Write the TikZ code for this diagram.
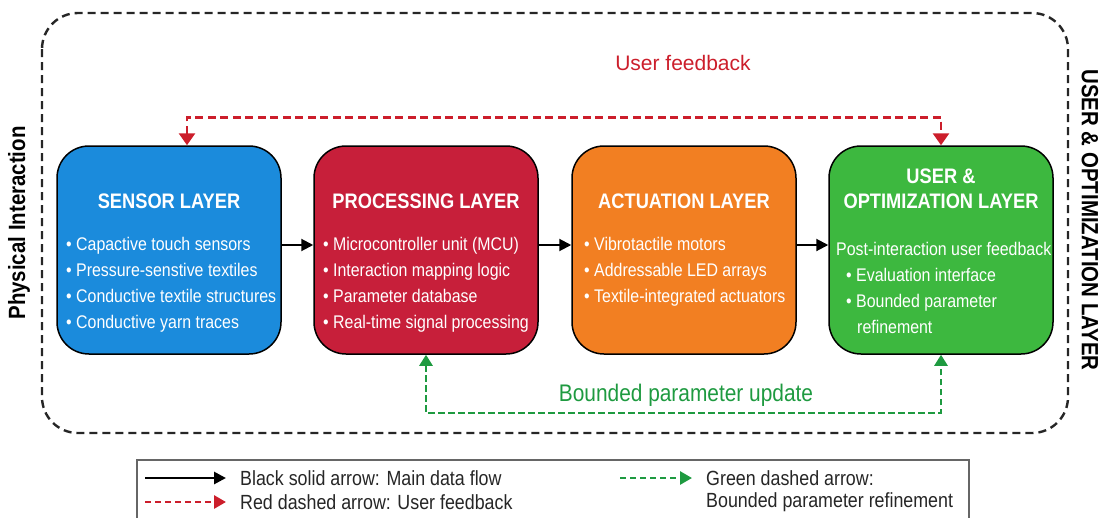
\documentclass[tikz,border=0pt]{standalone}
\usepackage{fontspec}
\setmainfont{Liberation Sans}
\newfontfamily\cond{Liberation Sans}[FakeStretch=0.87]
\usetikzlibrary{arrows.meta,calc}
\definecolor{cblue}{HTML}{1B8BDC}
\definecolor{cred}{HTML}{C71F3A}
\definecolor{corange}{HTML}{F27F22}
\definecolor{cgreen}{HTML}{3DB83F}
\definecolor{fbred}{HTML}{CC1E2B}
\definecolor{fbgreen}{HTML}{1E9A40}
\tikzset{
  layerbox/.style={draw=black, line width=1.5pt, rounded corners=32pt, minimum width=224pt, minimum height=208pt, inner sep=0pt},
  boxtitle/.style={text=white, font=\cond\fontsize{21}{25}\selectfont\bfseries, align=center},
  bullets/.style={text=white, font=\cond\fontsize{18.3}{26}\selectfont, align=left, anchor=north west, inner sep=0pt},
  flow/.style={line width=2pt, -{Triangle[length=12pt,width=12pt]}},
  fbred/.style={draw=fbred, line width=2.8pt, dash pattern=on 8pt off 4.5pt, {Triangle[length=12pt,width=16pt]}-{Triangle[length=12pt,width=16pt]}},
  fbgreen/.style={draw=fbgreen, line width=2.5pt, dash pattern=on 6.5pt off 3.5pt, {Triangle[length=11pt,width=13pt]}-{Triangle[length=11pt,width=13pt]}},
  sidelabel/.style={font=\cond\fontsize{23.5}{26}\selectfont\bfseries},
  legtext/.style={font=\cond\fontsize{20.5}{22}\selectfont, anchor=west, inner sep=0pt, text=black!85}
}
\begin{document}
\begin{tikzpicture}[x=1pt,y=-1pt]
\useasboundingbox (0,0) rectangle (1103,517);
% outer dashed frame
\draw[line width=2.4pt, dash pattern=on 8pt off 5pt, rounded corners=36pt, black!85] (42,13) rectangle (1068,433);
% side labels
\node[sidelabel, rotate=90] (phys) at (19,223) {Physical Interaction};
\node[sidelabel, rotate=-90] (uol) at (1090,220) {USER \& OPTIMIZATION LAYER};
% boxes
\node[layerbox, fill=cblue] (s) at (169,250) {};
\node[layerbox, fill=cred] (p) at (426,250) {};
\node[layerbox, fill=corange] (a) at (684,250) {};
\node[layerbox, fill=cgreen] (u) at (941,250) {};
% titles
\node[boxtitle] (st) at (169,201) {SENSOR LAYER};
\node[boxtitle] (pt) at (426,201) {PROCESSING LAYER};
\node[boxtitle] (at) at (684,201) {ACTUATION LAYER};
\node[boxtitle] (ut) at (941,189) {USER \&\\OPTIMIZATION LAYER};
% bullets
\node[bullets] (sb) at (66,237) {• Capactive touch sensors\\• Pressure-senstive textiles\\• Conductive textile structures\\• Conductive yarn traces};
\node[bullets] (pb) at (323,237) {• Microcontroller unit (MCU)\\• Interaction mapping logic\\• Parameter database\\• Real-time signal processing};
\node[bullets] (ab) at (584,237) {• Vibrotactile motors\\• Addressable LED arrays\\• Textile-integrated actuators};
\node[bullets] (ub) at (836,242) {Post-interaction user feedback\\\hspace*{10pt}• Evaluation interface\\\hspace*{10pt}• Bounded parameter\\\hspace*{21pt}refinement};
% main flow
\draw[flow] ([yshift=5pt]s.east) -- ([yshift=5pt]p.west);
\draw[flow] ([yshift=5pt]p.east) -- ([yshift=5pt]a.west);
\draw[flow] ([yshift=5pt]a.east) -- ([yshift=5pt]u.west);
% user feedback
\draw[fbred] ([xshift=18pt]s.north) -- ++(0,-28) -| (u.north);
\node[text=fbred, font=\fontsize{21}{24}\selectfont] (uf) at (683,63) {User feedback};
% bounded update
\draw[fbgreen] (p.south) -- ++(0,58) -| (u.south);
\node[text=fbgreen, font=\cond\fontsize{24}{26}\selectfont] (bpu) at (686,395) {Bounded parameter update};
% legend
\draw[draw=black!60, line width=1.5pt, fill=white] (137,460) rectangle (969,530);
\coordinate (l1a) at (145,478); \coordinate (l1b) at (226,478);
\coordinate (l2a) at (145,502); \coordinate (l2b) at (226,502);
\coordinate (l3a) at (620,478); \coordinate (l3b) at (692,478);
\draw[line width=2.8pt, -{Triangle[length=12pt,width=12pt]}] (l1a) -- (l1b);
\draw[draw=fbred, line width=2.8pt, dash pattern=on 6pt off 4pt, -{Triangle[length=12pt,width=13pt]}] (l2a) -- (l2b);
\draw[draw=fbgreen, line width=2.8pt, dash pattern=on 6pt off 4pt, -{Triangle[length=12pt,width=13pt]}] (l3a) -- (l3b);
\node[legtext] (lt1) at (240,478) {Black solid arrow: Main data flow};
\node[legtext] (lt2) at (240,502) {Red dashed arrow: User feedback};
\node[legtext] (lt3) at (706,478) {Green dashed arrow:};
\node[legtext] (lt4) at (706,502) {Bounded parameter refinement};
\end{tikzpicture}
\end{document}
